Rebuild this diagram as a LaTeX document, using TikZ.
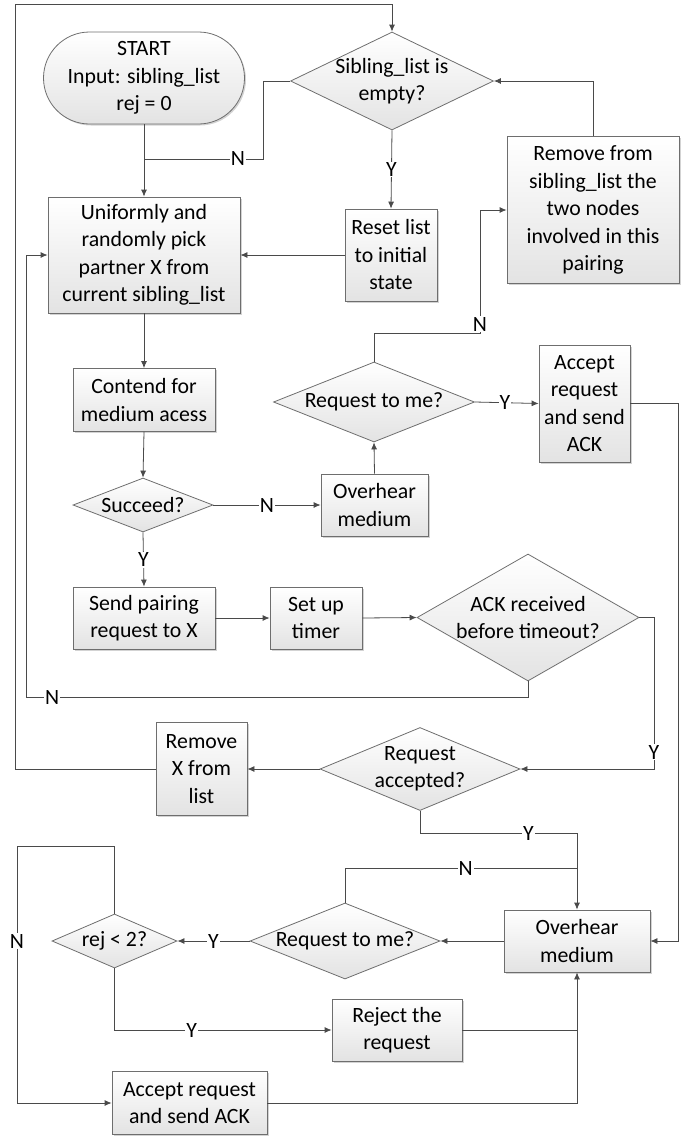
\documentclass[tikz,border=0pt]{standalone}
\usepackage{fontspec}
\setmainfont{Carlito}
\usetikzlibrary{shapes.geometric,arrows.meta,shadows}
\definecolor{ln}{HTML}{4A4A4A}
\definecolor{bd}{HTML}{6E6E6E}
\begin{document}
\begin{tikzpicture}[x=1pt,y=-1pt,
  font=\fontsize{21.8}{27.5}\selectfont,
  base/.style={draw=bd, line width=0.8pt, top color=white, bottom color=gray!22, align=center, inner sep=0pt},
  box/.style={base, rectangle, drop shadow={shadow xshift=1.5pt,shadow yshift=-1.5pt,fill=gray,opacity=0.35}},
  term/.style={base, rectangle, rounded corners=46pt, drop shadow={shadow xshift=1.5pt,shadow yshift=-1.5pt,fill=gray,opacity=0.35}},
  dia/.style={base, diamond},
  txt/.style={align=center, inner sep=0pt},
  ln/.style={draw=ln, line width=0.8pt},
  arr/.style={ln, -{Latex[length=7pt,width=6pt]}},
  lbl/.style={fill=white, inner sep=1pt, text=black}
]
\useasboundingbox (0,0) rectangle (694,1136);

% nodes
\node[term, minimum width=201pt, minimum height=92pt] (start) at (144,78) {START\\Input: sibling\_list\\rej = 0};
\node[dia, minimum width=203pt, minimum height=98pt] (d1) at (392,81) {};
\node[txt] (d1t) at (d1.center) {Sibling\_list is\\empty?};
\node[box, minimum width=192pt, minimum height=116pt] (pick) at (144,255) {Uniformly and\\randomly pick\\partner X from\\current sibling\_list};
\node[box, minimum width=92pt, minimum height=92pt] (reset) at (391,255) {Reset list\\to initial\\state};
\node[box, minimum width=172pt, minimum height=147pt] (rem2) at (593,210) {Remove from\\sibling\_list the\\two nodes\\involved in this\\pairing};
\node[box, minimum width=142pt, minimum height=63pt] (contend) at (144,400) {Contend for\\medium acess};
\node[dia, minimum width=201pt, minimum height=80pt] (d2) at (374,402) {};
\node[txt] (d2t) at (d2.center) {Request to me?};
\node[box, minimum width=91pt, minimum height=117pt] (acc1) at (584.5,403.5) {Accept\\request\\and send\\ACK};
\node[box, minimum width=107pt, minimum height=62pt] (over1) at (374.5,505) {Overhear\\medium};
\node[dia, minimum width=140pt, minimum height=54pt] (d3) at (143,505) {};
\node[txt] (d3t) at (d3.center) {Succeed?};
\node[box, minimum width=142pt, minimum height=62pt] (send) at (144,618) {Send pairing\\request to X};
\node[box, minimum width=92pt, minimum height=62pt] (timer) at (316,618) {Set up\\timer};
\node[dia, minimum width=222pt, minimum height=127pt] (d4) at (528,617.5) {};
\node[txt] (d4t) at (d4.center) {ACK received\\before timeout?};
\node[dia, minimum width=200pt, minimum height=83pt] (d5) at (420,769) {};
\node[txt] (d5t) at (d5.center) {Request\\accepted?};
\node[box, minimum width=91pt, minimum height=93pt] (remx) at (201.5,769) {Remove\\X from\\list};
\node[box, minimum width=146pt, minimum height=62pt] (over2) at (577,941) {Overhear\\medium};
\node[dia, minimum width=190pt, minimum height=76pt] (d6) at (345,941) {};
\node[txt] (d6t) at (d6.center) {Request to me?};
\node[dia, minimum width=125pt, minimum height=54pt] (d7) at (114.5,941) {};
\node[txt] (d7t) at (d7.center) {rej < 2?};
\node[box, minimum width=130pt, minimum height=62pt] (reject) at (397,1030) {Reject the\\request};
\node[box, minimum width=155pt, minimum height=63pt] (acc2) at (189.5,1103) {Accept request\\and send ACK};

% bend points
\coordinate (b1) at (263,81);
\coordinate (b2) at (263,159);
\coordinate (b3) at (144,159);
\coordinate (b4) at (374,333);
\coordinate (b5) at (480,333);
\coordinate (b6) at (480,210);
\coordinate (b7) at (678,403.5);
\coordinate (b8) at (528,697);
\coordinate (b9) at (26,697);
\coordinate (b10) at (26,255);
\coordinate (b11) at (654,617.5);
\coordinate (b12) at (654,769);
\coordinate (b13) at (15,769);
\coordinate (b14) at (15,4);
\coordinate (b15) at (392,4);
\coordinate (b16) at (420,833);
\coordinate (b17) at (577,833);
\coordinate (b18) at (345,868);
\coordinate (b19) at (577,868);
\coordinate (b20) at (114.5,846);
\coordinate (b21) at (17,846);
\coordinate (b22) at (17,1103);
\coordinate (b23) at (114.5,1030);
\coordinate (b24) at (577,1030);
\coordinate (b25) at (577,1103);

% connectors
\draw[arr] (start.south) -- (pick.north);
\draw[ln] (d1.west) -- (b1) -- (b2) -- node[lbl,pos=0.21]{N} (b3);
\draw[arr] (d1.south) -- node[lbl]{Y} (reset.north);
\draw[arr] (reset.west) -- (pick.east);
\draw[arr] (rem2.north) |- (d1.east);
\draw[arr] (d2.north) -- (b4) -- (b5) -- node[lbl,pos=0.07]{N} (b6) -- (rem2.west);
\draw[arr] (d2.east) -- node[lbl,pos=0.47]{Y} (acc1.west);
\draw[arr] (acc1.east) -- (b7) |- (over2.east);
\draw[arr] (over1.north) -- (d2.south);
\draw[arr] (pick.south) -- (contend.north);
\draw[arr] (contend.south) -- (d3.north);
\draw[arr] (d3.east) -- node[lbl]{N} (over1.west);
\draw[arr] (d3.south) -- node[lbl]{Y} (send.north);
\draw[arr] (send.east) -- (timer.west);
\draw[arr] (timer.east) -- (d4.west);
\draw[arr] (d4.south) -- (b8) -- node[lbl,pos=0.948]{N} (b9) -- (b10) -- (pick.west);
\draw[arr] (d4.east) -- (b11) -- node[lbl,pos=0.89]{Y} (b12) -- (d5.east);
\draw[arr] (d5.west) -- (remx.east);
\draw[arr] (remx.west) -- (b13) -- (b14) -- (b15) -- (d1.north);
\draw[arr] (d5.south) -- (b16) -- node[lbl,pos=0.69]{Y} (b17) -- (over2.north);
\draw[ln] (d6.north) -- (b18) -- node[lbl,pos=0.52]{N} (b19);
\draw[arr] (over2.west) -- (d6.east);
\draw[arr] (d6.west) -- node[lbl]{Y} (d7.east);
\draw[arr] (d7.north) -- (b20) -- (b21) -- node[lbl,pos=0.37]{N} (b22) -- (acc2.west);
\draw[arr] (d7.south) -- (b23) -- node[lbl,pos=0.356]{Y} (reject.west);
\draw[ln] (reject.east) -- (b24);
\draw[arr] (acc2.east) -- (b25) -- (over2.south);
\end{tikzpicture}
\end{document}
